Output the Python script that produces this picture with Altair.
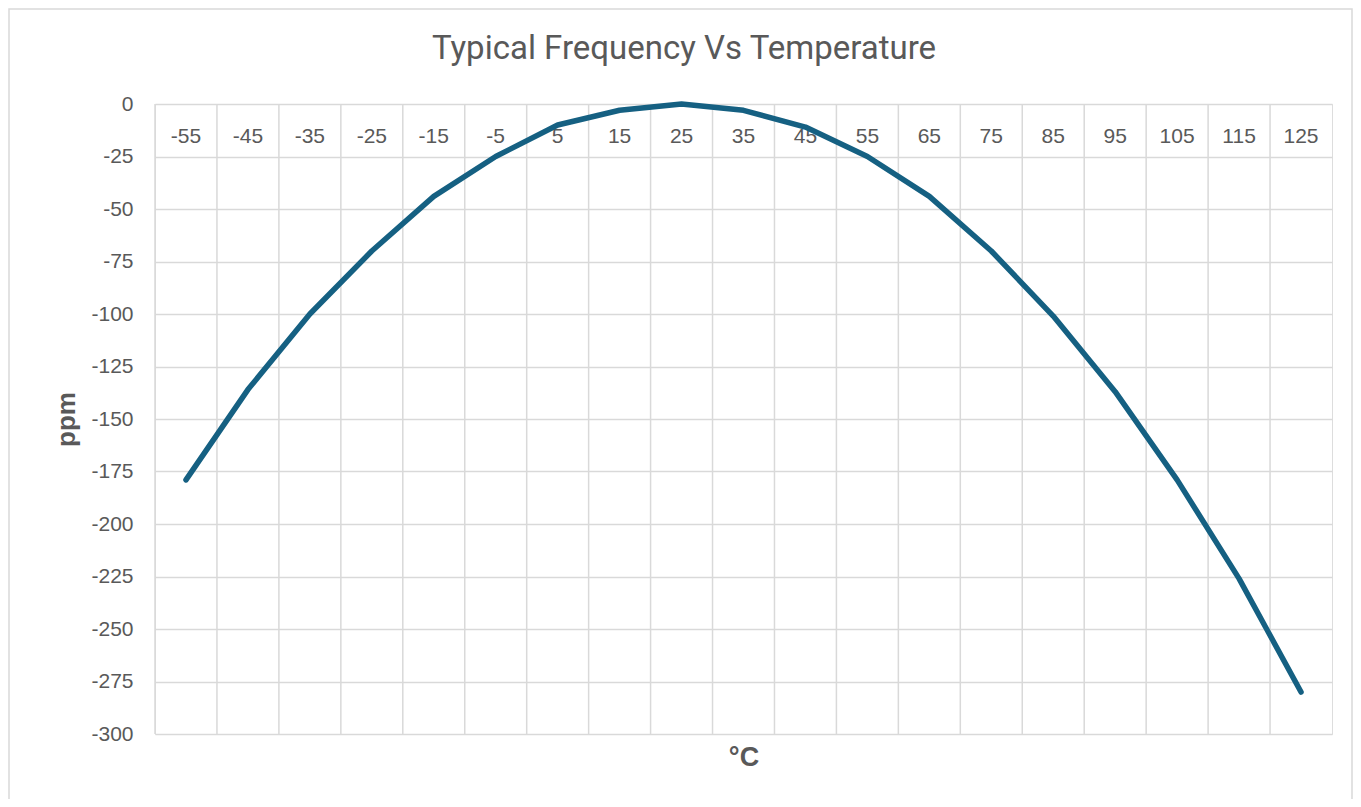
import altair as alt
import pandas as pd

# ---- data ----
temps = ["-55", "-45", "-35", "-25", "-15", "-5", "5", "15", "25", "35",
         "45", "55", "65", "75", "85", "95", "105", "115", "125"]
ppm = [-179, -136, -100, -70, -44, -25, -10, -3, 0, -3,
       -11, -25, -44, -70, -101, -137, -179, -226, -280]
y_ticks = [0, -25, -50, -75, -100, -125, -150, -175, -200, -225, -250, -275, -300]
title_text = ["Typical Frequency Vs Temperature"]
x_title = "°C"
y_title = "ppm"

df = pd.DataFrame({"t": temps, "ppm": ppm})

W, H = 1177, 630
GRID = "#d9d9d9"
TXT = "#595959"
FONT = "Liberation Sans"

xscale = alt.Scale(type="band", domain=temps, paddingInner=0, paddingOuter=0)
yscale = alt.Scale(domain=[-300, 0], nice=False, zero=False)

x_axis = alt.Axis(
    orient="bottom", offset=-H, domain=False, ticks=False, tickSize=0,
    grid=False, labelAngle=0, labelPadding=32, labelBaseline="middle",
    labelFont=FONT, labelFontSize=21, labelColor=TXT,
    title=x_title, titleX=W / 2, titleY=653, titleAlign="center",
    titleBaseline="middle", titleFont=FONT, titleFontSize=27,
    titleFontWeight="bold", titleColor=TXT,
)

# vertical grid lines at category boundaries
vgrid = alt.Chart(df).mark_rule(color=GRID, strokeWidth=1.5).encode(
    x=alt.X("t:O", bandPosition=0, scale=xscale, axis=x_axis)
)

line = alt.Chart(df).mark_line(
    color="#156082", strokeWidth=5.5, strokeCap="round", strokeJoin="round"
).encode(
    x=alt.X("t:O", bandPosition=0.5, scale=xscale, axis=x_axis),
    y=alt.Y(
        "ppm:Q", scale=yscale,
        axis=alt.Axis(
            values=y_ticks, domain=False, ticks=False, tickSize=0,
            grid=True, gridColor=GRID, gridWidth=1.5,
            labelPadding=22, labelBaseline="middle",
            labelExpr="'' + datum.value",
            labelFont=FONT, labelFontSize=21, labelColor=TXT,
            title=y_title, titleX=-89, titleY=H / 2, titleAngle=270,
            titleAlign="center", titleBaseline="middle",
            titleFont=FONT, titleFontSize=26, titleFontWeight="bold",
            titleColor=TXT,
        ),
    ),
)

title = alt.Chart(pd.DataFrame({"label": title_text})).mark_text(
    font="Roboto", fontSize=33, color=TXT, align="center", baseline="middle"
).encode(
    x=alt.value(529), y=alt.value(-55), text="label:N"
)

border = alt.Chart(pd.DataFrame({"k": [1]})).mark_rect(
    fillOpacity=0, stroke=GRID, strokeWidth=1.5
).encode(
    x=alt.value(-146), x2=alt.value(1197), y=alt.value(-95), y2=alt.value(H + 80)
)

chart = alt.layer(border, vgrid, line, title).properties(
    width=W, height=H,
    autosize=alt.AutoSizeParams(type="none"),
    padding={"left": 147, "top": 96, "right": 21, "bottom": 65},
).configure_view(stroke=GRID, strokeWidth=1.5).configure(background="white")

chart.save("out.html", embed_options={"renderer": "svg", "actions": False})
